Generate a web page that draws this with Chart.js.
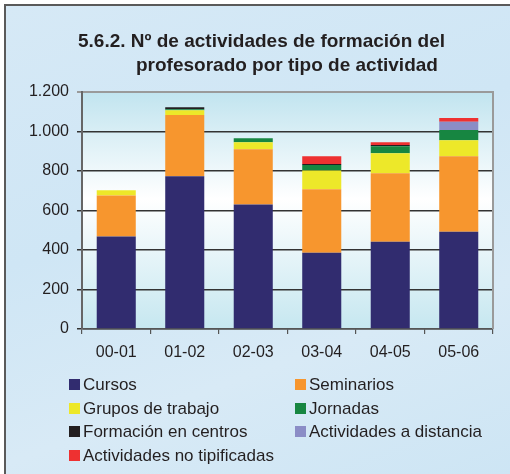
<!DOCTYPE html>
<html lang="es">
<head>
<meta charset="UTF-8">
<title>Actividades de formación del profesorado</title>
<script src="https://cdn.jsdelivr.net/npm/chart.js@4.4.0/dist/chart.umd.min.js"></script>
<style>
  html, body { margin: 0; padding: 0; background: #fff; }
  #wrap { position: relative; width: 510px; height: 474px; overflow: hidden; font-family: "Liberation Sans", Arial, sans-serif; color: #231f20; }
  #frame { position: absolute; left: 4px; top: 4px; width: 506px; height: 470px; border-top: 2px solid #5a5a5a; border-left: 2px solid #5a5a5a;
           background: linear-gradient(160deg, #d6e9f6 0%, #cfe6f5 40%, #d8eaf6 70%, #cde5f4 100%); }
  canvas { position: absolute; left: 0; top: 0; }
  .title { position: absolute; font-weight: bold; font-size: 19px; white-space: nowrap; line-height: 1; }
  .leg { position: absolute; font-size: 17px; white-space: nowrap; line-height: 1; }
  .leg i { position: absolute; left: -14px; top: 3px; width: 11px; height: 11px; }
</style>
</head>
<body>
<div id="wrap">
  <div id="frame"></div>
  <canvas id="chart" width="510" height="474"></canvas>
  <div class="title" style="left:78px; top:31px;">5.6.2. Nº de actividades de formación del</div>
  <div class="title" style="left:136px; top:55px;">profesorado por tipo de actividad</div>
  <div id="legend"></div>
</div>
<script>
const cursos = ['00-01', '01-02', '02-03', '03-04', '04-05', '05-06']
const yTicks = [0, 200, 400, 600, 800, 1000, 1200]

const cursosVals = [468, 773, 630, 386, 442, 493]
const seminarios = [208, 310, 280, 321, 346, 382]
const grupos = [26, 25, 36, 96, 102, 81]
const jornadas = [0, 5, 20, 28, 35, 51]
const centros = [0, 10, 0, 4, 7, 0]
const distancia = [0, 0, 0, 0, 0, 42]
const noTipif = [0, 0, 0, 40, 14, 19]

const series = [
  { label: 'Cursos', data: cursosVals, color: '#312c6f' },
  { label: 'Seminarios', data: seminarios, color: '#f7962e' },
  { label: 'Grupos de trabajo', data: grupos, color: '#ede829' },
  { label: 'Jornadas', data: jornadas, color: '#178641' },
  { label: 'Formación en centros', data: centros, color: '#231f20' },
  { label: 'Actividades a distancia', data: distancia, color: '#8b8dc6' },
  { label: 'Actividades no tipificadas', data: noTipif, color: '#ee3131' }
]

// fondo degradado del área de gráfico y borde derecho gris
const plotBg = {
  id: 'plotBg',
  beforeDraw(chart) {
    const { ctx, chartArea: a } = chart
    const g = ctx.createLinearGradient(0, a.top, 0, a.bottom)
    g.addColorStop(0, '#c1e4ef')
    g.addColorStop(0.45, '#ffffff')
    g.addColorStop(1, '#c6e7f0')
    ctx.save()
    ctx.fillStyle = g
    ctx.fillRect(a.left, a.top, a.right - a.left, a.bottom - a.top)
    ctx.restore()
  },
  afterDraw(chart) {
    const { ctx, chartArea: a } = chart
    ctx.save()
    ctx.strokeStyle = '#9a9a9a'
    ctx.lineWidth = 2
    ctx.beginPath()
    ctx.moveTo(a.right, a.top - 1)
    ctx.lineTo(a.right, a.bottom)
    ctx.stroke()
    ctx.restore()
  }
}

const ctx = document.getElementById('chart').getContext('2d')
const chart = new Chart(ctx, {
  type: 'bar',
  data: {
    labels: cursos,
    datasets: series.map(s => ({
      label: s.label,
      data: s.data,
      backgroundColor: s.color,
      borderWidth: 0,
      categoryPercentage: 1,
      barPercentage: 0.57
    }))
  },
  options: {
    responsive: false,
    animation: false,
    layout: { padding: { top: 92, right: 17, left: 0, bottom: 0 } },
    plugins: { legend: { display: false }, tooltip: { enabled: false } },
    scales: {
      x: {
        stacked: true,
        afterFit: s => { s.height = 145 },
        grid: { drawOnChartArea: false, drawTicks: true, tickLength: 5, color: '#555', lineWidth: 1.2 },
        border: { color: '#555', width: 1.5 },
        ticks: { color: '#231f20', font: { family: 'Liberation Sans', size: 16 }, padding: 9 }
      },
      y: {
        stacked: true,
        min: 0,
        max: 1200,
        afterFit: s => { s.width = 82 },
        afterBuildTicks: s => { s.ticks = yTicks.map(v => ({ value: v })) },
        grid: {
          tickLength: 5,
          lineWidth: c => c.tick && c.tick.value === 1200 ? 2 : 1.5,
          color: c => c.tick && c.tick.value === 1200 ? '#9a9a9a' : '#333'
        },
        border: { color: '#666', width: 2 },
        ticks: {
          color: '#231f20',
          font: { family: 'Liberation Sans', size: 16 },
          padding: 8,
          callback: v => v.toLocaleString('de-DE')
        }
      }
    }
  },
  plugins: [plotBg]
})

// leyenda en dos columnas
const legend = document.getElementById('legend')
const cols = [83, 309]
const rows = [376, 400, 423, 447]
chart.data.datasets.forEach((d, i) => {
  const el = document.createElement('div')
  el.className = 'leg'
  el.style.left = cols[i % 2] + 'px'
  el.style.top = rows[Math.floor(i / 2)] + 'px'
  el.innerHTML = '<i style="background:' + d.backgroundColor + '"></i>' + d.label
  legend.appendChild(el)
})
</script>
</body>
</html>
